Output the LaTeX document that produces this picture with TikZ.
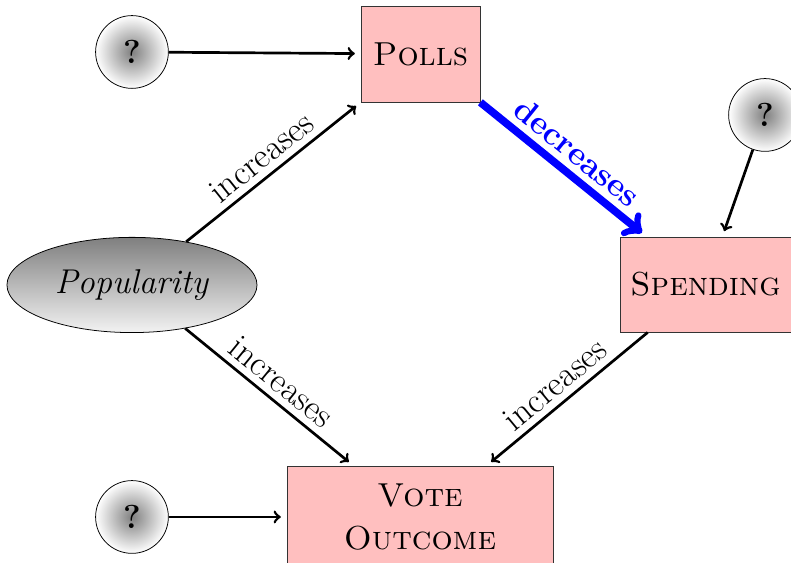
\documentclass[tikz,border=0pt]{standalone}
\usetikzlibrary{calc,shapes.geometric}
\begin{document}
\begin{tikzpicture}[every node/.style={font=\LARGE},
  box/.style={draw=black!80,fill=red!25,align=center,inner sep=2pt},
  hidden/.style={draw,circle,minimum size=1.33cm,inner sep=0pt,inner color=black!50,outer color=white,font=\LARGE\bfseries},
  link/.style={->,line width=1.4pt,shorten >=3pt},
  effect/.style={above,sloped,font=\fontsize{18.3}{22}\selectfont}]
\useasboundingbox (0,0) rectangle (14.456,10.289);
% variables
\node[box,minimum width=2.175cm,minimum height=1.755cm] (polls) at (7.685,9.302) {\textsc{Polls}};
\node[box,minimum width=3.126cm,minimum height=1.737cm] (spend) at (12.894,5.090) {\textsc{Spending}};
\node[box,minimum width=4.862cm,minimum height=1.864cm] (vote) at (7.676,0.841) {\textsc{Vote}\\\textsc{Outcome}};
\node[draw,ellipse,minimum width=4.57cm,minimum height=1.74cm,top color=black!50,bottom color=black!5,font=\fontsize{17.9}{22}\selectfont] (pop) at (2.412,5.081) {\textit{Popularity}};
% unknown causes
\node[hidden] (q1) at (2.412,9.339) {?};
\node[hidden] (q2) at (2.412,0.841) {?};
\node[hidden] (q3) at (13.981,8.188) {?};
\coordinate (voteL) at ($(vote.north west)!0.25!(vote.north east)$);
\coordinate (voteR) at ($(vote.north west)!0.75!(vote.north east)$);
% effects
\draw[link] (q1) -- (polls);
\draw[link] (q2) -- (vote);
\draw[link] (q3) -- (spend);
\draw[link] (pop) -- node[effect] {increases} (polls.south west);
\draw[link] (pop) -- node[effect] {increases} (voteL);
\draw[link] (spend) -- node[effect] {increases} (voteR);
\draw[->,blue,line width=4pt,shorten >=3pt] (polls) -- node[above,sloped,font=\LARGE\bfseries] {decreases} (spend);
\end{tikzpicture}
\end{document}
